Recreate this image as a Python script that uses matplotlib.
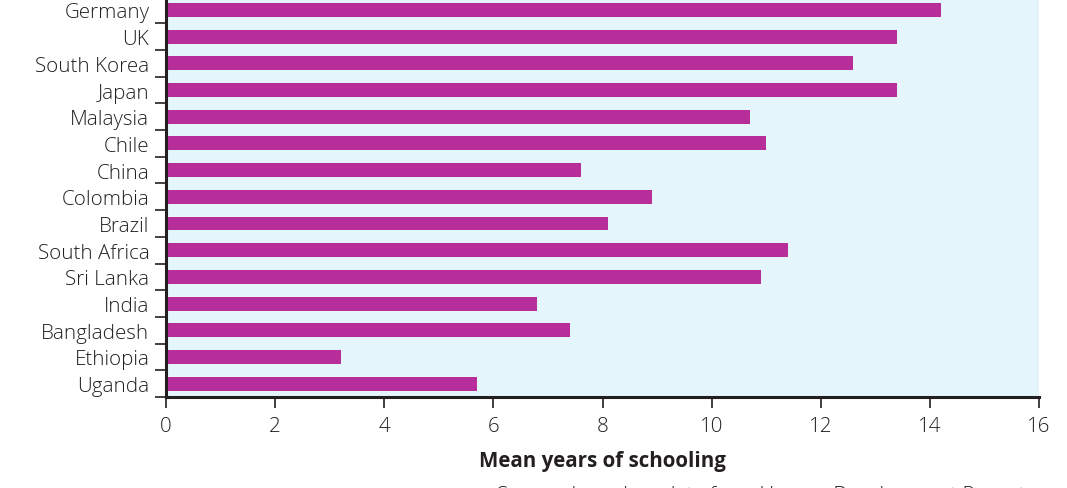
import matplotlib
matplotlib.use("Agg")
import matplotlib.pyplot as plt

countries = ["Germany", "UK", "South Korea", "Japan", "Malaysia", "Chile", "China",
             "Colombia", "Brazil", "South Africa", "Sri Lanka", "India", "Bangladesh",
             "Ethiopia", "Uganda"]
years = [14.2, 13.4, 12.6, 13.4, 10.7, 11.0, 7.6, 8.9, 8.1, 11.4, 10.9, 6.8, 7.4, 3.2, 5.7]
xticks = [0, 2, 4, 6, 8, 10, 12, 14, 16]

plt.rcParams['font.family'] = ['Open Sans', 'DejaVu Sans']
txt = '#231f20'
fs = 14.8

fig = plt.figure(figsize=(10.67, 4.89), dpi=100)
ax = fig.add_axes([166/1067, 91/489, 873/1067, 400.4/489])
ax.set_facecolor('#e4f5fc')

pos = list(range(len(countries)))
ax.barh(pos, years, height=0.52, color='#b72e9b', zorder=2)
ax.set_ylim(len(countries) - 0.5, -0.5)
ax.set_xlim(0, 16)

ax.set_yticks([p + 0.5 for p in pos])
ax.set_yticklabels([])
ax.set_yticks(pos, minor=True)
ax.set_yticklabels(countries, minor=True, fontsize=fs, color=txt, fontweight='light')
ax.tick_params(axis='y', which='minor', length=0, pad=12)
ax.tick_params(axis='y', which='major', length=8, width=1.2, color=txt, direction='out')

ax.set_xticks(xticks)
ax.set_xticklabels([str(t) for t in xticks], fontsize=fs, color=txt, fontweight='light')
ax.tick_params(axis='x', length=8, width=1.2, color=txt, direction='out', pad=6)

for s in ['top', 'right']:
    ax.spines[s].set_visible(False)
for s in ['left', 'bottom']:
    ax.spines[s].set_linewidth(2.2)
    ax.spines[s].set_color(txt)

ax.set_xlabel("Mean years of schooling", fontsize=fs, fontweight='bold', color=txt, labelpad=10)

fig.text(497/1067, 1 - 486.5/489, "Source: based on data from Human Development Report",
         fontsize=fs, color=txt, va='top', ha='left', fontweight='light')

fig.savefig("out.png", dpi=100)
